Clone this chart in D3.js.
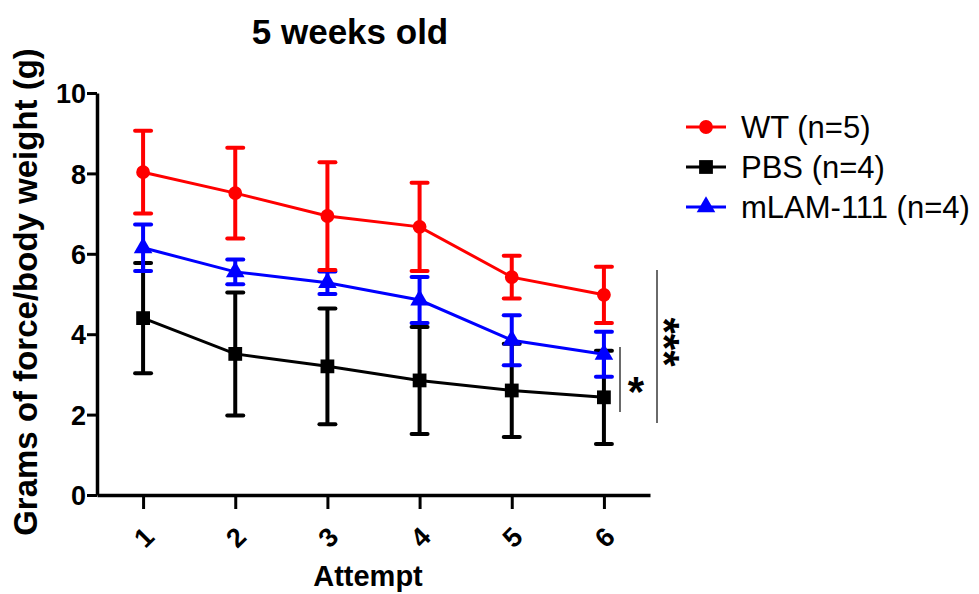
<!DOCTYPE html>
<html>
<head>
<meta charset="utf-8">
<script src="https://cdn.jsdelivr.net/npm/d3@7"></script>
<style>
  body { margin: 0; background: #fff; }
  text { font-family: "Liberation Sans", Arial, sans-serif; }
</style>
</head>
<body>
<div id="chart"></div>
<script>
// values
const attempts = [1, 2, 3, 4, 5, 6];
const yTicks = [0, 2, 4, 6, 8, 10];

const wtMean = [8.03, 7.51, 6.94, 6.67, 5.42, 4.98];
const wtSd   = [1.03, 1.13, 1.34, 1.10, 0.53, 0.70];

const pbsMean = [4.40, 3.51, 3.20, 2.85, 2.60, 2.43];
const pbsSd   = [1.37, 1.53, 1.44, 1.33, 1.16, 1.16];

const mlamMean = [6.15, 5.55, 5.28, 4.85, 3.85, 3.50];
const mlamSd   = [0.58, 0.31, 0.28, 0.57, 0.62, 0.56];

const seriesNames = ["WT (n=5)", "PBS (n=4)", "mLAM-111 (n=4)"];

const W = 979, H = 594;
const svg = d3.select("#chart").append("svg").attr("width", W).attr("height", H);

const x = d3.scaleLinear().domain([0.5, 6.5]).range([97, 650]);
const y = d3.scaleLinear().domain([0, 10]).range([495, 93]);

const series = [
  {name: seriesNames[1], mean: pbsMean, sd: pbsSd, color: "#000000", shape: d3.symbolSquare, size: 190},
  {name: seriesNames[2], mean: mlamMean, sd: mlamSd, color: "#0000ff", shape: d3.symbolTriangle, size: 150},
  {name: seriesNames[0], mean: wtMean, sd: wtSd, color: "#ff0000", shape: d3.symbolCircle, size: 150}
];

// axes
const yAxis = svg.append("g")
  .attr("transform", "translate(" + x.range()[0] + ",0)")
  .call(d3.axisLeft(y).tickValues(yTicks).tickSize(10).tickPadding(1).tickSizeOuter(0));
yAxis.select(".domain").attr("stroke-width", 3.5);
yAxis.selectAll(".tick line").attr("stroke-width", 3);
yAxis.selectAll(".tick text")
  .style("font-size", "27px").style("font-weight", "bold").attr("dy", "0.36em");

const xAxis = svg.append("g")
  .attr("transform", "translate(0," + y(0) + ")")
  .call(d3.axisBottom(x).tickValues(attempts).tickSize(14).tickSizeOuter(0).tickFormat(d3.format("d")));
xAxis.select(".domain").attr("stroke-width", 3.5);
xAxis.selectAll(".tick line").attr("stroke-width", 3);
xAxis.selectAll(".tick text")
  .style("font-size", "27px").style("font-weight", "bold")
  .attr("text-anchor", "middle")
  .attr("transform", "translate(0,42) rotate(-45)")
  .attr("y", 0).attr("dy", "0.36em");

// series
const line = d3.line().x((d, i) => x(attempts[i])).y(d => y(d));

series.forEach(s => {
  const g = svg.append("g");
  g.append("path")
    .attr("d", line(s.mean))
    .attr("fill", "none")
    .attr("stroke", s.color)
    .attr("stroke-width", 3);

  s.mean.forEach((m, i) => {
    const cx = x(attempts[i]);
    const top = y(m + s.sd[i]), bot = y(m - s.sd[i]);
    g.append("line").attr("x1", cx).attr("x2", cx).attr("y1", top).attr("y2", bot)
      .attr("stroke", s.color).attr("stroke-width", 4);
    [top, bot].forEach(cy => {
      g.append("line").attr("x1", cx - 8).attr("x2", cx + 8).attr("y1", cy).attr("y2", cy)
        .attr("stroke", s.color).attr("stroke-width", 4).attr("stroke-linecap", "round");
    });
    g.append("path")
      .attr("d", d3.symbol().type(s.shape).size(s.size)())
      .attr("transform", "translate(" + cx + "," + y(m) + ")")
      .attr("fill", s.color);
  });
});

// significance marks
const sigColor = "#6a6a6a";
svg.append("line").attr("x1", 620).attr("x2", 620).attr("y1", 347).attr("y2", 412)
  .attr("stroke", sigColor).attr("stroke-width", 2);
svg.append("text").attr("x", 636).attr("y", 406).attr("text-anchor", "middle")
  .style("font-size", "42px").style("font-weight", "bold").text("*");
svg.append("line").attr("x1", 657).attr("x2", 657).attr("y1", 270).attr("y2", 423)
  .attr("stroke", sigColor).attr("stroke-width", 2);
svg.append("text")
  .attr("transform", "translate(650,342) rotate(90)")
  .attr("text-anchor", "middle")
  .style("font-size", "42px").style("font-weight", "bold").text("***");

// titles
svg.append("text").attr("x", 350).attr("y", 44).attr("text-anchor", "middle")
  .style("font-size", "35px").style("font-weight", "bold").text("5 weeks old");
svg.append("text").attr("x", 368).attr("y", 586).attr("text-anchor", "middle")
  .style("font-size", "29px").style("font-weight", "bold").text("Attempt");
svg.append("text")
  .attr("transform", "translate(37,292) rotate(-90)")
  .attr("text-anchor", "middle")
  .style("font-size", "33px").style("font-weight", "bold")
  .text("Grams of force/body weight (g)");

// legend
const legendOrder = [series[2], series[0], series[1]];
legendOrder.forEach((s, i) => {
  const ly = 127 + i * 40;
  const lg = svg.append("g");
  lg.append("line").attr("x1", 686).attr("x2", 726).attr("y1", ly).attr("y2", ly)
    .attr("stroke", s.color).attr("stroke-width", 3);
  lg.append("path")
    .attr("d", d3.symbol().type(s.shape).size(s.size)())
    .attr("transform", "translate(706," + ly + ")")
    .attr("fill", s.color);
  lg.append("text").attr("x", 741).attr("y", ly).attr("dy", "0.36em")
    .style("font-size", "31px").text(s.name);
});
</script>
</body>
</html>
